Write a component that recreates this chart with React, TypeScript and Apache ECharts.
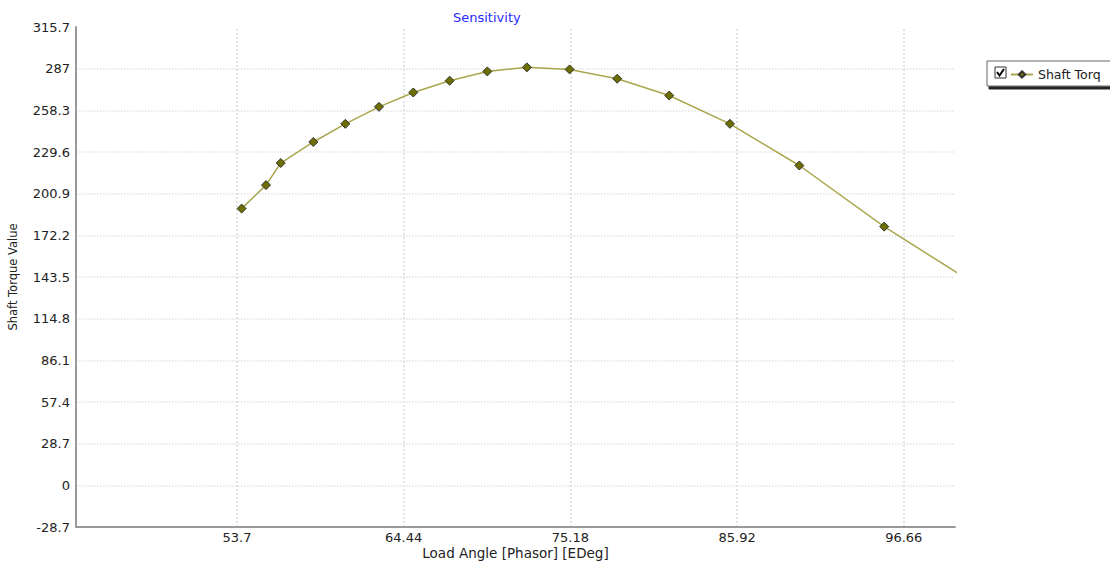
import React, { useEffect, useRef } from "react";
import * as echarts from "echarts";

const loadAngle = [54.0, 55.57, 56.52, 58.62, 60.68, 62.85, 65.06, 67.4, 69.83, 72.38, 75.13, 78.2, 81.55, 85.46, 89.93, 95.4, 102.0];
const shaftTorque = [190.6, 206.8, 222.0, 236.5, 249.0, 260.7, 270.6, 278.7, 285.1, 287.9, 286.5, 280.1, 268.5, 249.0, 220.3, 178.2, 133.5];
const xTickValues = [53.7, 64.44, 75.18, 85.92, 96.66];
const yTickInterval = 28.7;
const seriesName = "Shaft Torque";

const FONT = "DejaVu Sans";

export default function App() {
  const ref = useRef<HTMLDivElement>(null);
  useEffect(() => {
    if (!ref.current) return;
    const chart = echarts.init(ref.current, null, { renderer: "svg" });
    const data = loadAngle.map((x, i) => [x, shaftTorque[i]]);
    chart.setOption({
      animation: false,
      backgroundColor: "#ffffff",
      title: {
        text: "Sensitivity",
        left: 448,
        top: 6,
        textStyle: { fontSize: 13, color: "#2b2bff", fontWeight: "normal", fontFamily: FONT },
      },
      grid: { left: 76, right: 155, top: 27, bottom: 35, outerBoundsMode: "none", containLabel: false },
      legend: {
        left: 1010,
        top: 68,
        padding: 0,
        z: 5,
        itemWidth: 22,
        itemHeight: 8,
        itemGap: 6,
        textStyle: { fontSize: 12.5, color: "#222", fontFamily: FONT, width: 66, overflow: "truncate", ellipsis: "" },
        data: [seriesName],
      },
      graphic: [
        {
          type: "rect",
          z: 1,
          shape: { x: 987, y: 61, width: 140, height: 25 },
          style: {
            fill: "#ffffff",
            stroke: "#666",
            lineWidth: 1,
            shadowColor: "rgba(0,0,0,0.85)",
            shadowOffsetX: 2,
            shadowOffsetY: 3,
            shadowBlur: 1,
          },
        },
        {
          type: "rect",
          z: 6,
          shape: { x: 995, y: 67, width: 11, height: 11 },
          style: { fill: "#ffffff", stroke: "#333", lineWidth: 1 },
        },
        {
          type: "polyline",
          z: 7,
          shape: { points: [[997, 72], [999.5, 75.5], [1004, 69]] },
          style: { stroke: "#000", lineWidth: 2, fill: "none" },
        },
      ],
      xAxis: {
        type: "value",
        min: 43.33,
        max: 99.96,
        name: "Load Angle [Phasor] [EDeg]",
        nameLocation: "middle",
        nameGap: 19,
        nameMoveOverlap: false,
        nameTextStyle: { fontSize: 13.5, color: "#222", fontFamily: FONT },
        axisLine: { show: true, onZero: false, lineStyle: { color: "#999", width: 2 } },
        axisTick: { show: false, customValues: xTickValues },
        axisLabel: {
          customValues: xTickValues,
          fontSize: 13,
          color: "#222",
          fontFamily: FONT,
          margin: 4,
          formatter: (v: number) => String(+v.toFixed(2)),
        },
        splitLine: { show: false },
      },
      yAxis: {
        type: "value",
        min: -28.7,
        max: 315.7,
        interval: yTickInterval,
        name: "Shaft Torque Value",
        nameLocation: "middle",
        nameGap: 57,
        nameMoveOverlap: false,
        nameTextStyle: { fontSize: 11.5, color: "#222", fontFamily: FONT },
        axisLine: { show: true, onZero: false, lineStyle: { color: "#999", width: 2 } },
        axisTick: { show: false },
        axisLabel: {
          fontSize: 13,
          color: "#222",
          fontFamily: FONT,
          margin: 6,
          formatter: (v: number) => String(+v.toFixed(1)),
        },
        splitLine: { show: true, showMinLine: false, showMaxLine: false, lineStyle: { color: "#e3e3e3", type: "dotted", width: 1.5 } },
      },
      series: [
        {
          name: seriesName,
          type: "line",
          data,
          clip: true,
          symbol: "diamond",
          symbolSize: 9,
          showAllSymbol: true,
          lineStyle: { color: "#a9a64e", width: 1.5 },
          itemStyle: { color: "#6e6e00", borderColor: "#333", borderWidth: 1 },
          markLine: {
            silent: true,
            symbol: "none",
            label: { show: false },
            lineStyle: { color: "#e3e3e3", type: "dotted", width: 2 },
            z: 0,
            data: xTickValues.map((v) => ({ xAxis: v })),
          },
        },
      ],
    });
    return () => chart.dispose();
  }, []);
  return <div ref={ref} style={{ position: "fixed", left: 0, top: 0, width: 1110, height: 562 }} />;
}
